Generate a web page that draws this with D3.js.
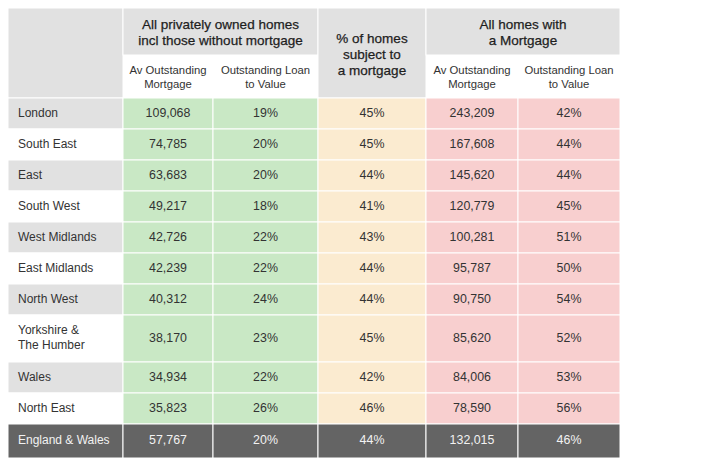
<!DOCTYPE html>
<html>
<head>
<meta charset="utf-8">
<script src="https://cdn.jsdelivr.net/npm/d3@7"></script>
<style>
  html, body { margin: 0; padding: 0; background: #ffffff; }
  svg { display: block; font-family: "Liberation Sans", Arial, Helvetica, sans-serif; }
</style>
</head>
<body>
<svg id="chart" width="721" height="467"></svg>
<script>
// ---------------- DATA ----------------
const regions = ["London", "South East", "East", "South West", "West Midlands", "East Midlands",
  "North West", "Yorkshire & The Humber", "Wales", "North East", "England & Wales"];
const avMortgageAll = [109068, 74785, 63683, 49217, 42726, 42239, 40312, 38170, 34934, 35823, 57767];
const ltvAll = [19, 20, 20, 18, 22, 22, 24, 23, 22, 26, 20];
const pctWithMortgage = [45, 45, 44, 41, 43, 44, 44, 45, 42, 46, 44];
const avMortgageMortgaged = [243209, 167608, 145620, 120779, 100281, 95787, 90750, 85620, 84006, 78590, 132015];
const ltvMortgaged = [42, 44, 44, 45, 51, 50, 54, 52, 53, 56, 46];

const groupHeaders = [
  { key: "g1", lines: ["All privately owned homes", "incl those without mortgage"] },
  { key: "c3", lines: ["% of homes", "subject to", "a mortgage"] },
  { key: "g2", lines: ["All homes with", "a Mortgage"] }
];
const subHeaders = [
  { key: "c1", lines: ["Av Outstanding", "Mortgage"] },
  { key: "c2", lines: ["Outstanding Loan", "to Value"] },
  { key: "c4", lines: ["Av Outstanding", "Mortgage"] },
  { key: "c5", lines: ["Outstanding Loan", "to Value"] }
];

// ---------------- LAYOUT ----------------
const svg = d3.select("#chart");
const colKeys = ["label", "c1", "c2", "c3", "c4", "c5"];
const colEdges = [8, 123, 213, 318, 426, 518, 620];
const xScale = d3.scaleOrdinal().domain(colKeys).range(colEdges.slice(0, -1));
const wScale = d3.scaleOrdinal().domain(colKeys).range(colKeys.map((k, i) => colEdges[i + 1] - colEdges[i]));
const groupX = { g1: [123, 318], c3: [318, 426], g2: [426, 620] };

const tableTop = 8, head1 = 47, head2 = 43;
const bodyTop = tableTop + head1 + head2;

const fmtNum = d3.format(",");
const fmtPct = d => d + "%";

const colors = {
  headGray: "#e1e1e1", labelGray: "#e1e1e1", white: "#ffffff",
  c1: "#c9e8c5", c2: "#c9e8c5", c3: "#fbebd0", c4: "#f8cfcf", c5: "#f8cfcf",
  total: "#646464"
};

// measure labels for wrapping
const measure = svg.append("text").attr("font-size", 12).attr("visibility", "hidden");
function wrap(text, maxW) {
  const words = text.split(" ");
  const lines = [];
  let cur = "";
  words.forEach(w => {
    const t = cur ? cur + " " + w : w;
    measure.text(t);
    if (measure.node().getComputedTextLength() > maxW && cur) { lines.push(cur); cur = w; }
    else cur = t;
  });
  lines.push(cur);
  return lines;
}
const labelLines = regions.map((r, i) => i === regions.length - 1 ? [r] : wrap(r, 84));
measure.remove();

const rowHeights = labelLines.map((l, i) => i === regions.length - 1 ? 34 : (l.length > 1 ? 47 : 31));
const rowY = [];
rowHeights.reduce((acc, h) => { rowY.push(acc); return acc + h; }, bodyTop);
const yScale = d3.scaleOrdinal().domain(regions).range(rowY);
const hScale = d3.scaleOrdinal().domain(regions).range(rowHeights);

// ---------------- HEADER ----------------
const hdr = svg.append("g");
hdr.append("rect").attr("x", xScale("label")).attr("y", tableTop).attr("width", wScale("label"))
  .attr("height", head1 + head2).attr("fill", colors.headGray).attr("stroke", "#fff");
Object.entries(groupX).forEach(([k, [x0, x1]]) => {
  hdr.append("rect").attr("x", x0).attr("y", tableTop).attr("width", x1 - x0)
    .attr("height", k === "c3" ? head1 + head2 : head1)
    .attr("fill", colors.headGray).attr("stroke", "#fff");
});
subHeaders.forEach(s => {
  hdr.append("rect").attr("x", xScale(s.key)).attr("y", tableTop + head1).attr("width", wScale(s.key))
    .attr("height", head2).attr("fill", colors.white);
});

groupHeaders.forEach(g => {
  const [x0, x1] = groupX[g.key];
  const cx = (x0 + x1) / 2;
  const yc = g.key === "c3" ? tableTop + 46 : tableTop + 24;
  const lh = 16;
  const t = hdr.append("text").attr("text-anchor", "middle").attr("font-size", 13.5)
    .attr("fill", "#1e1e1e").attr("stroke", "#1e1e1e").attr("stroke-width", 0.25);
  g.lines.forEach((ln, i) => {
    t.append("tspan").attr("x", cx).attr("y", yc - (g.lines.length - 1) * lh / 2 + i * lh)
      .attr("dy", "0.35em").text(ln);
  });
});

subHeaders.forEach(s => {
  const cx = xScale(s.key) + wScale(s.key) / 2;
  const t = hdr.append("text").attr("text-anchor", "middle").attr("font-size", 11.3).attr("fill", "#333");
  s.lines.forEach((ln, i) => {
    t.append("tspan").attr("x", cx).attr("y", tableTop + 62 + i * 14).attr("dy", "0.35em").text(ln);
  });
});

// ---------------- BODY ----------------
const columns = [
  { key: "c1", values: avMortgageAll, fmt: fmtNum },
  { key: "c2", values: ltvAll, fmt: fmtPct },
  { key: "c3", values: pctWithMortgage, fmt: fmtPct },
  { key: "c4", values: avMortgageMortgaged, fmt: fmtNum },
  { key: "c5", values: ltvMortgaged, fmt: fmtPct }
];

const rows = svg.append("g").selectAll("g.row").data(regions).join("g").attr("class", "row");

rows.each(function (region, i) {
  const g = d3.select(this);
  const isTotal = i === regions.length - 1;
  const y = yScale(region), h = hScale(region);
  g.append("rect").attr("x", xScale("label")).attr("y", y).attr("width", wScale("label")).attr("height", h)
    .attr("fill", isTotal ? colors.total : (i % 2 === 0 ? colors.labelGray : colors.white))
    .attr("stroke", "#fff").attr("stroke-width", 1);
  const lt = g.append("text").attr("font-size", 12).attr("fill", isTotal ? "#f2f2f2" : "#333");
  const lines = labelLines[i];
  lines.forEach((ln, j) => {
    lt.append("tspan").attr("x", xScale("label") + 10)
      .attr("y", y + h / 2 - (lines.length - 1) * 15 / 2 + j * 15 - 1).attr("dy", "0.35em").text(ln);
  });
  columns.forEach(c => {
    g.append("rect").attr("x", xScale(c.key)).attr("y", y).attr("width", wScale(c.key)).attr("height", h)
      .attr("fill", isTotal ? colors.total : colors[c.key])
      .attr("stroke", "#fff").attr("stroke-width", 1);
    g.append("text").attr("x", xScale(c.key) + wScale(c.key) / 2).attr("y", y + h / 2 - 1)
      .attr("dy", "0.35em").attr("text-anchor", "middle").attr("font-size", 12.4)
      .attr("fill", isTotal ? "#f2f2f2" : "#333").text(c.fmt(c.values[i]));
  });
});
</script>
</body>
</html>
